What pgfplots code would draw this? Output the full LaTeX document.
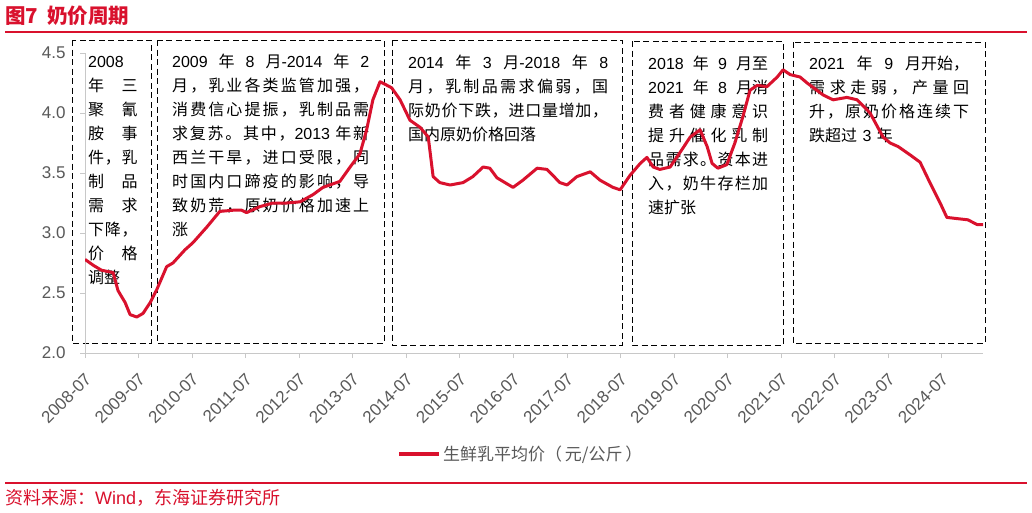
\documentclass[border=0pt]{standalone}
\usepackage{fontspec}
\usepackage{pgfplots}
\usepackage{pgfplotstable}
\pgfplotsset{compat=1.18}
\setmainfont{Liberation Sans}
\newfontfamily\cjk{Noto Sans CJK SC}
\newfontfamily\lat{Liberation Sans}
\XeTeXinterchartokenstate=1
\newcount\cc
\cc="4E00
\loop \XeTeXcharclass\cc=1 \advance\cc by 1 \ifnum\cc<"A000 \repeat
\XeTeXcharclass"FF0C=1 \XeTeXcharclass"3002=1 \XeTeXcharclass"FF08=1
\XeTeXcharclass"FF09=1 \XeTeXcharclass"FF1A=1 \XeTeXcharclass"3001=1
\XeTeXinterchartoks 1 1 = {\hskip 0pt plus 1pt\relax}
\newcommand\nm[1]{{\lat #1}}
\newcommand\gap{\hspace{0.25em plus 1fil}}
\newcommand\J[1]{\makebox[\linewidth][s]{#1}}
\definecolor{hred}{RGB}{217,17,45}
\definecolor{tgray}{RGB}{89,89,89}
\definecolor{agray}{RGB}{200,200,200}
\pgfplotstableread[row sep=\\]{
m v\\
0 2.78\\ 1.9 2.73\\ 3.7 2.69\\ 6.3 2.67\\ 7.4 2.52\\ 9 2.42\\ 10.1 2.32\\ 11.6 2.30\\
13 2.33\\ 14.6 2.42\\ 16.1 2.53\\ 18.3 2.72\\ 19.7 2.75\\ 22.4 2.86\\ 24.2 2.92\\
27.3 3.05\\ 30.2 3.18\\ 33.2 3.19\\ 35.1 3.19\\ 36.2 3.17\\ 39.2 3.22\\ 42.1 3.25\\
45.2 3.25\\ 48.2 3.26\\ 51.1 3.32\\ 53.3 3.38\\ 57.1 3.43\\ 59.4 3.55\\ 61.6 3.66\\
63.1 3.86\\ 64.5 4.11\\ 66.1 4.26\\ 67.2 4.24\\ 68.7 4.21\\ 70.6 4.11\\ 72.8 3.94\\
75.1 3.88\\ 76.9 3.80\\ 78 3.47\\ 79.5 3.42\\ 81.8 3.40\\ 84.7 3.42\\ 86.9 3.47\\
89.2 3.55\\ 90.7 3.54\\ 92.3 3.46\\ 95.9 3.38\\ 98.1 3.44\\ 101.3 3.54\\ 103.5 3.53\\
106.4 3.42\\ 108 3.40\\ 110.2 3.47\\ 113.2 3.51\\ 115.4 3.44\\ 118.3 3.38\\ 119.9 3.36\\
122.1 3.48\\ 124.4 3.58\\ 125.9 3.63\\ 127.3 3.55\\ 128.8 3.53\\ 131.1 3.55\\ 133.3 3.67\\
135.6 3.80\\ 137.8 3.86\\ 139.4 3.72\\ 140.5 3.58\\ 141.8 3.54\\ 143.8 3.57\\ 145.6 3.75\\
147.4 3.97\\ 149 4.19\\ 150.6 4.23\\ 152.8 4.22\\ 155.1 4.30\\ 156.4 4.36\\ 158 4.32\\
160.2 4.30\\ 161.8 4.25\\ 165.4 4.15\\ 167.6 4.11\\ 170.7 4.13\\ 173 4.11\\ 175.9 4.00\\
178.8 3.80\\ 180.4 3.75\\ 182.2 3.72\\ 184.9 3.65\\ 187.1 3.59\\ 189.3 3.42\\ 191.6 3.25\\
193.1 3.13\\ 195.4 3.12\\ 197.8 3.11\\ 199.9 3.07\\ 201.2 3.07\\
}\milk
\begin{document}
\begin{tikzpicture}[x=1pt,y=1pt]
\path[use as bounding box, fill=white] (0,0) rectangle (1032,-512);
% title and rules
\node[anchor=west, inner sep=0pt, text=hred, font=\cjk\bfseries\fontsize{20.5}{24}\selectfont] at (5,-16) {图7\hspace{9pt}奶价周期};
\draw[hred, line width=2pt] (5,-32) -- (1027,-32);
\draw[hred, line width=2pt] (5,-483) -- (1027,-483);
\node[anchor=west, inner sep=0pt, text=hred, font=\cjk\fontsize{18}{21}\selectfont] at (5,-498) {资料来源：\nm{Wind}，东海证券研究所};
% dashed boxes
\begin{scope}[black, line width=1pt, dash pattern=on 6pt off 3.5pt]
\draw (72,-40) rectangle (151,-343);
\draw (157,-40) rectangle (384,-343);
\draw (392,-40) rectangle (622,-345);
\draw (632,-41) rectangle (783,-345);
\draw (793,-42) rectangle (985,-343);
\end{scope}
\tikzset{ann/.style={anchor=base west, inner sep=0pt, align=left, font=\cjk\fontsize{16}{24}\selectfont}}
\node[ann, text width=49.5pt] at (88,-67) {\nm{2008}\\\J{年三}\\\J{聚氰}\\\J{胺事}\\\J{件，乳}\\\J{制品}\\\J{需求}\\\J{下降，}\\\J{价格}\\调整};
\node[ann, text width=197pt] at (172,-67) {\J{\nm{2009}\gap 年\gap\nm{8}\gap 月\nm{-2014}\gap 年\gap\nm{2}}\\\J{月，乳业各类监管加强，}\\\J{消费信心提振，乳制品需}\\\J{求复苏。其中，\nm{2013} 年新}\\\J{西兰干旱，进口受限，同}\\\J{时国内口蹄疫的影响，导}\\\J{致奶荒，原奶价格加速上}\\涨};
\node[ann, text width=200pt] at (408,-68) {\J{\nm{2014}\gap 年\gap\nm{3}\gap 月\nm{-2018}\gap 年\gap\nm{8}}\\\J{月，乳制品需求偏弱，国}\\\J{际奶价下跌，进口量增加，}\\国内原奶价格回落};
\node[ann, text width=120pt] at (648,-69) {\J{\nm{2018}\gap 年\gap\nm{9}\gap 月至}\\\J{\nm{2021}\gap 年\gap\nm{8}\gap 月消}\\\J{费者健康意识}\\\J{提升催化乳制}\\\J{品需求。资本进}\\\J{入，奶牛存栏加}\\速扩张};
\node[ann, text width=160pt] at (809,-69) {\J{\nm{2021}\gap 年\gap\nm{9}\gap 月开始，}\\\J{需求走弱，产量回}\\\J{升，原奶价格连续下}\\跌超过 \nm{3} 年};
\begin{axis}[
  at={(85pt,-353pt)}, anchor=south west,
  scale only axis, width=898pt, height=300pt,
  xmin=0, xmax=201.2, ymin=2, ymax=4.5,
  axis x line*=bottom, axis y line*=left,
  axis line style={draw=agray, line width=1pt, -},
  tick style={draw=agray, line width=1pt},
  tick align=outside, major tick length=5pt,
  xtick={0,12,24,36,48,60,72,84,96,108,120,132,144,156,168,180,192},
  xticklabels={2008-07,2009-07,2010-07,2011-07,2012-07,2013-07,2014-07,2015-07,2016-07,2017-07,2018-07,2019-07,2020-07,2021-07,2022-07,2023-07,2024-07},
  ytick={2,2.5,3,3.5,4,4.5},
  yticklabel style={xshift=-11pt, /pgf/number format/fixed, /pgf/number format/fixed zerofill, /pgf/number format/precision=1},
  /pgf/number format/assume math mode=true,
  tick label style={font=\lat\fontsize{17}{20}\selectfont, text=tgray},
  xticklabel style={yshift=-9pt, xshift=-1pt, rotate=45, anchor=north east},
  legend style={at={(0.3475,-0.3367)}, anchor=west, draw=none, fill=none, inner sep=0pt, outer sep=0pt, font=\cjk\fontsize{17}{20}\selectfont, text=tgray},
  legend image code/.code={\draw[#1, line width=4pt] (0pt,0pt) -- (40pt,0pt);},
]
\addplot[color=hred, line width=3pt, line join=round, no markers] table[x=m, y=v] {\milk};
\addlegendentry{生鲜乳平均价（\,元/公斤\,）}
\end{axis}
\end{tikzpicture}
\end{document}
